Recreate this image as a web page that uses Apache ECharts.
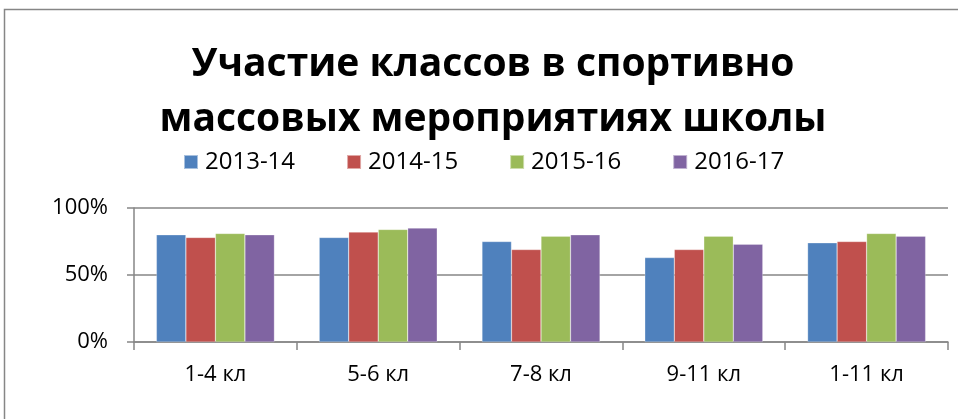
<!DOCTYPE html>
<html>
<head>
<meta charset="utf-8">
<script src="https://cdn.jsdelivr.net/npm/echarts@6/dist/echarts.min.js"></script>
<style>
  html, body { margin: 0; padding: 0; background: #fff; }
  #uchastie { width: 958px; height: 419px; }
</style>
</head>
<body>
<div id="uchastie"></div>
<script>
  // данные диаграммы
  var classes = ['1-4 кл', '5-6 кл', '7-8 кл', '9-11 кл', '1-11 кл'];
  var years = ['2013-14', '2014-15', '2015-16', '2016-17'];
  var y2013 = [80, 78, 75, 63, 74];
  var y2014 = [78, 82, 69, 69, 75];
  var y2015 = [81, 84, 79, 79, 81];
  var y2016 = [80, 85, 80, 73, 79];
  var yTicks = [0, 50, 100];

  var colors = ['#4F81BD', '#C0504D', '#9BBB59', '#8064A2'];
  var axisGray = '#868686';
  var font = '"Open Sans", "Noto Sans", sans-serif';

  function makeSeries(name, data, i) {
    return {
      name: name,
      type: 'bar',
      data: data,
      barGap: '0%',
      barCategoryGap: '27.5%',
      itemStyle: {
        color: colors[i],
        borderColor: 'rgba(255,255,255,0.5)',
        borderWidth: 0.5
      }
    };
  }

  var option = {
    animation: false,
    title: {
      text: 'Участие классов в спортивно\nмассовых мероприятиях школы',
      left: 488,
      top: 32,
      textAlign: 'center',
      textStyle: {
        color: '#000',
        fontFamily: font,
        fontWeight: 'bold',
        fontSize: 39,
        lineHeight: 55
      }
    },
    legend: {
      left: 183,
      top: 150,
      padding: 0,
      itemWidth: 14,
      itemHeight: 14,
      itemGap: 51,
      icon: 'rect',
      textStyle: {
        color: '#000',
        fontFamily: font,
        fontSize: 24,
        padding: [0, 0, 0, 2]
      },
      data: years
    },
    grid: {
      left: 134,
      right: 10,
      top: 208,
      bottom: 77,
      containLabel: false
    },
    xAxis: {
      type: 'category',
      data: classes,
      axisLine: { lineStyle: { color: axisGray, width: 1.5 } },
      axisTick: { show: true, length: 8, lineStyle: { color: axisGray, width: 1.5 } },
      axisLabel: {
        color: '#000',
        fontFamily: font,
        fontSize: 22,
        margin: 22
      }
    },
    yAxis: {
      type: 'value',
      min: yTicks[0],
      max: yTicks[yTicks.length - 1],
      interval: 50,
      axisLine: { show: true, lineStyle: { color: axisGray, width: 1.5 } },
      axisTick: { show: true, length: 7, lineStyle: { color: axisGray, width: 1.5 } },
      splitLine: { show: true, lineStyle: { color: axisGray, width: 1.5 } },
      axisLabel: {
        color: '#000',
        fontFamily: font,
        fontSize: 22,
        margin: 26,
        formatter: '{value}%'
      }
    },
    graphic: [
      {
        // рамка диаграммы
        type: 'rect',
        shape: { x: 4.5, y: 9.5, width: 1000, height: 500 },
        style: { fill: 'none', stroke: axisGray, lineWidth: 1.5 },
        silent: true
      }
    ],
    series: [
      makeSeries(years[0], y2013, 0),
      makeSeries(years[1], y2014, 1),
      makeSeries(years[2], y2015, 2),
      makeSeries(years[3], y2016, 3)
    ]
  };

  var myChart = echarts.init(document.getElementById('uchastie'));
  myChart.clear();
  myChart.setOption(option);
</script>
</body>
</html>
